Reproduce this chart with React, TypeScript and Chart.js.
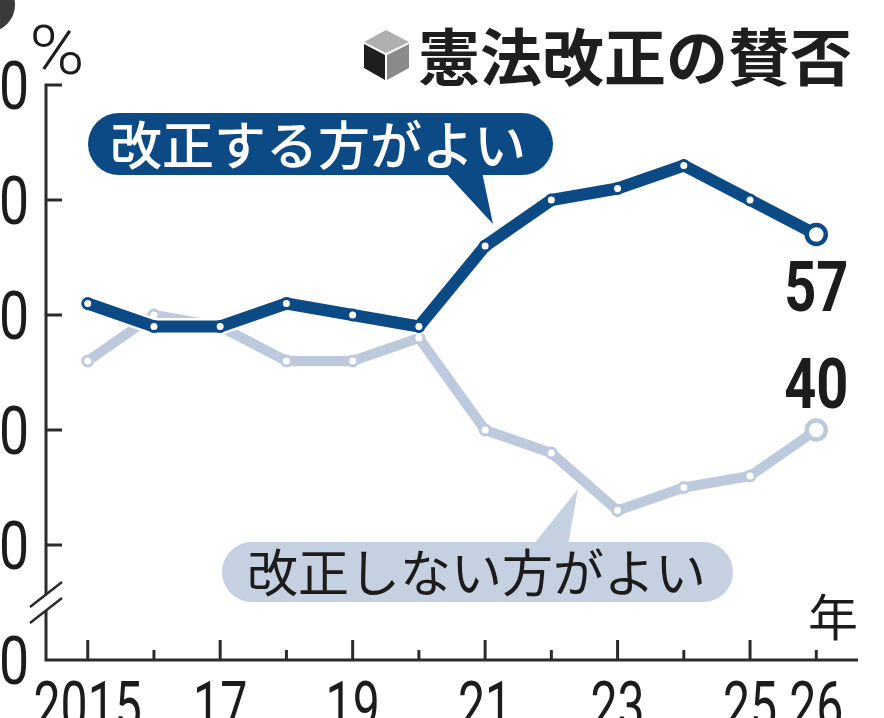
import React, { useEffect, useRef } from 'react';
import { Chart, registerables, Plugin } from 'chart.js';

Chart.register(...registerables);

// data
const years = [2015, 2016, 2017, 2018, 2019, 2020, 2021, 2022, 2023, 2024, 2025, 2026];
const favorValues = [51, 49, 49, 51, 50, 49, 56, 60, 61, 63, 60, 57];
const againstValues = [46, 50, 49, 46, 46, 48, 40, 38, 33, 35, 36, 40];
const yTickValues = [20, 30, 40, 50, 60, 70];
const yTickLabels = ['0', '30', '40', '50', '60', '70'];
const xTickYears = [2015, 2017, 2019, 2021, 2023, 2025, 2026];
const xTickLabels = ['2015', '17', '19', '21', '23', '25', '26'];

const DARK = '#0c4a86';
const LIGHT = '#bdc9dc';
const BUBBLE_LIGHT = '#c5d0e1';
const AXIS = '#2b2b2b';
const TEXT = '#1c1c1c';
const JP = '"Noto Sans CJK JP", "Noto Sans", sans-serif';
const NUM = 'Roboto, "DejaVu Sans", sans-serif';

function pill(ctx: CanvasRenderingContext2D, x1: number, y1: number, x2: number, y2: number) {
    const r = (y2 - y1) / 2;
    ctx.beginPath();
    ctx.moveTo(x1 + r, y1);
    ctx.lineTo(x2 - r, y1);
    ctx.arc(x2 - r, y1 + r, r, -Math.PI / 2, Math.PI / 2);
    ctx.lineTo(x1 + r, y2);
    ctx.arc(x1 + r, y1 + r, r, Math.PI / 2, Math.PI * 1.5);
    ctx.closePath();
    ctx.fill();
}

function narrowText(ctx: CanvasRenderingContext2D, text: string, x: number, y: number, sx: number) {
    ctx.save();
    ctx.translate(x, y);
    ctx.scale(sx, 1);
    ctx.fillText(text, 0, 0);
    ctx.restore();
}

const overlayPlugin: Plugin<'line'> = {
    id: 'overlay',
    beforeDatasetsDraw(chart) {
        const ctx = chart.ctx;
        const xs = chart.scales.x;
        const ys = chart.scales.y;
        const left = xs.left;
        const right = xs.right;
        const top = ys.top;
        const bottom = ys.bottom;

        ctx.save();

        // stray dark circle in the top-left corner
        ctx.fillStyle = '#3a3a3a';
        ctx.beginPath();
        ctx.arc(-12, 5, 27, 0, Math.PI * 2);
        ctx.fill();

        // axes
        ctx.strokeStyle = AXIS;
        ctx.lineWidth = 3;
        ctx.lineCap = 'butt';
        ctx.beginPath();
        ctx.moveTo(left + 16, top);
        ctx.lineTo(left, top);
        ctx.lineTo(left, bottom);
        ctx.lineTo(right, bottom);
        ctx.stroke();

        yTickValues.forEach(v => {
            if (v === yTickValues[0] || v === yTickValues[yTickValues.length - 1]) return;
            const py = ys.getPixelForValue(v);
            ctx.beginPath();
            ctx.moveTo(left, py);
            ctx.lineTo(left + 16, py);
            ctx.stroke();
        });

        years.forEach(yr => {
            const px = xs.getPixelForValue(yr);
            const len = yr % 2 === 1 ? 20 : 10;
            ctx.beginPath();
            ctx.moveTo(px, bottom);
            ctx.lineTo(px, bottom - len);
            ctx.stroke();
        });

        // axis break
        const c = ys.getPixelForValue(25);
        ctx.fillStyle = '#ffffff';
        ctx.beginPath();
        ctx.moveTo(left - 8, c - 8 + 6);
        ctx.lineTo(left + 8, c - 8 - 6);
        ctx.lineTo(left + 8, c + 8 - 6);
        ctx.lineTo(left - 8, c + 8 + 6);
        ctx.closePath();
        ctx.fill();
        ctx.lineWidth = 2.5;
        [-8, 8].forEach(o => {
            ctx.beginPath();
            ctx.moveTo(left - 16, c + o + 12.5);
            ctx.lineTo(left + 16, c + o - 12.5);
            ctx.stroke();
        });

        // tick labels
        ctx.fillStyle = TEXT;
        ctx.font = `400 67px ${NUM}`;
        ctx.textBaseline = 'alphabetic';
        ctx.textAlign = 'right';
        yTickValues.forEach((v, i) => {
            narrowText(ctx, yTickLabels[i], 29, ys.getPixelForValue(v) + 24, 0.8);
        });
        ctx.textAlign = 'center';
        xTickYears.forEach((yr, i) => {
            narrowText(ctx, xTickLabels[i], xs.getPixelForValue(yr), bottom + 69, 0.72);
        });

        ctx.font = `300 68px ${NUM}`;
        narrowText(ctx, '%', 57, 74, 1.1);

        ctx.font = `400 50px ${JP}`;
        ctx.textBaseline = 'middle';
        ctx.fillText('年', 833, 617);

        // title with cube icon
        ctx.fillStyle = '#b0b0b0';
        ctx.beginPath();
        ctx.moveTo(386, 30); ctx.lineTo(409, 42); ctx.lineTo(386, 53); ctx.lineTo(364, 42);
        ctx.closePath(); ctx.fill();
        ctx.fillStyle = '#1e1e1e';
        ctx.beginPath();
        ctx.moveTo(364, 44); ctx.lineTo(385, 55); ctx.lineTo(385, 80); ctx.lineTo(364, 68);
        ctx.closePath(); ctx.fill();
        ctx.fillStyle = '#8a8a8a';
        ctx.beginPath();
        ctx.moveTo(387, 55); ctx.lineTo(409, 44); ctx.lineTo(409, 68); ctx.lineTo(387, 80);
        ctx.closePath(); ctx.fill();

        ctx.fillStyle = '#1e1e1e';
        ctx.font = `700 62px ${JP}`;
        ctx.textAlign = 'left';
        ctx.textBaseline = 'middle';
        ctx.fillText('憲法改正の賛否', 418, 57);

        // series bubbles
        ctx.fillStyle = DARK;
        pill(ctx, 88, 113, 553, 175);
        ctx.beginPath();
        ctx.moveTo(445, 172); ctx.lineTo(482, 172); ctx.lineTo(493, 224);
        ctx.closePath(); ctx.fill();
        ctx.fillStyle = '#ffffff';
        ctx.font = `500 52px ${JP}`;
        ctx.fillText('改正する方がよい', 110, 145);

        ctx.fillStyle = BUBBLE_LIGHT;
        pill(ctx, 222, 542, 733, 602);
        ctx.beginPath();
        ctx.moveTo(533, 545); ctx.lineTo(568, 545); ctx.lineTo(578, 489);
        ctx.closePath(); ctx.fill();
        ctx.fillStyle = TEXT;
        ctx.font = `400 51px ${JP}`;
        ctx.fillText('改正しない方がよい', 247, 573);

        ctx.restore();
    },
    beforeDatasetDraw(chart, args) {
        // white halo under the dark line
        if (args.index !== 0) return;
        const ctx = chart.ctx;
        const pts = chart.getDatasetMeta(0).data;
        ctx.save();
        ctx.strokeStyle = '#ffffff';
        ctx.lineWidth = 17;
        ctx.lineJoin = 'round';
        ctx.lineCap = 'round';
        ctx.beginPath();
        pts.forEach((p, i) => (i === 0 ? ctx.moveTo(p.x, p.y) : ctx.lineTo(p.x, p.y)));
        ctx.stroke();
        ctx.restore();
    },
    afterDatasetsDraw(chart) {
        const ctx = chart.ctx;
        const last = years.length - 1;
        const pFavor = chart.getDatasetMeta(0).data[last];
        const pAgainst = chart.getDatasetMeta(1).data[last];
        ctx.save();
        ctx.fillStyle = TEXT;
        ctx.font = `700 70px ${NUM}`;
        ctx.textAlign = 'center';
        ctx.textBaseline = 'alphabetic';
        narrowText(ctx, String(favorValues[last]), pFavor.x, pFavor.y + 76, 0.8);
        narrowText(ctx, String(againstValues[last]), pAgainst.x, pAgainst.y - 22, 0.8);
        ctx.restore();
    },
};

const App: React.FC = () => {
    const canvasRef = useRef<HTMLCanvasElement>(null);
    const chartRef = useRef<Chart<'line'>>();

    useEffect(() => {
        document.body.style.margin = '0';
        const ctx = canvasRef.current?.getContext('2d');
        if (!ctx) return;
        if (chartRef.current) chartRef.current.destroy();

        const last = years.length - 1;
        const radii = years.map((_, i) => (i === last ? 9.5 : 5));
        const widths = years.map((_, i) => (i === last ? 4.5 : 3));

        chartRef.current = new Chart(ctx, {
            type: 'line',
            data: {
                datasets: [
                    {
                        label: '改正する方がよい',
                        data: years.map((yr, i) => ({ x: yr, y: favorValues[i] })),
                        borderColor: DARK,
                        borderWidth: 12,
                        borderJoinStyle: 'round',
                        pointRadius: radii,
                        pointBorderWidth: widths,
                        pointBackgroundColor: '#ffffff',
                        pointBorderColor: DARK,
                        tension: 0,
                        clip: false,
                    },
                    {
                        label: '改正しない方がよい',
                        data: years.map((yr, i) => ({ x: yr, y: againstValues[i] })),
                        borderColor: LIGHT,
                        borderWidth: 10,
                        borderJoinStyle: 'round',
                        pointRadius: radii,
                        pointBorderWidth: widths,
                        pointBackgroundColor: '#ffffff',
                        pointBorderColor: LIGHT,
                        tension: 0,
                        clip: false,
                    },
                ],
            },
            options: {
                animation: false,
                responsive: true,
                maintainAspectRatio: false,
                events: [],
                layout: { padding: { left: 46, right: 26, top: 85, bottom: 58 } },
                plugins: {
                    legend: { display: false },
                    tooltip: { enabled: false },
                },
                scales: {
                    x: { type: 'linear', display: false, min: 2014.37, max: 2026.63 },
                    y: { type: 'linear', display: false, min: 20, max: 70 },
                },
            },
            plugins: [overlayPlugin],
        });

        return () => {
            if (chartRef.current) {
                chartRef.current.destroy();
                chartRef.current = undefined;
            }
        };
    }, []);

    return (
        <div style={{ position: 'absolute', left: 0, top: 0, width: 884, height: 718, background: '#fff' }}>
            <canvas ref={canvasRef}></canvas>
        </div>
    );
};

export default App;
